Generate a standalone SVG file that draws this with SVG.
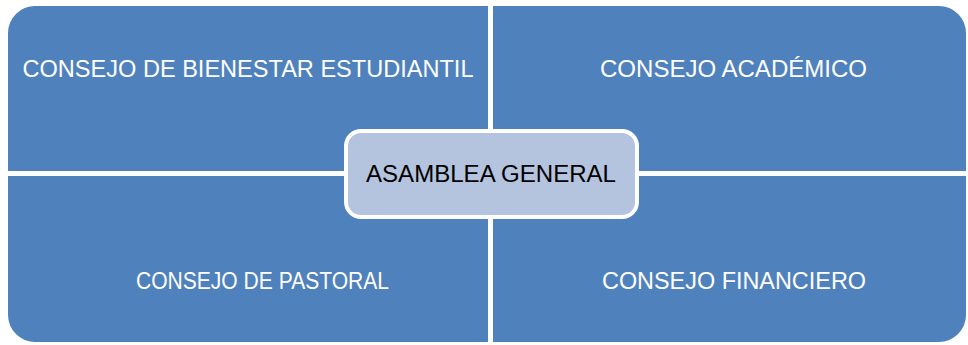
<svg xmlns="http://www.w3.org/2000/svg" width="968" height="345" viewBox="0 0 968 345">
<style>
.q{fill:#4F81BD;}
.qt{font-family:"Liberation Sans",Arial,sans-serif;font-size:23px;fill:#FFFFFF;text-anchor:middle;}
.ct{font-family:"Liberation Sans",Arial,sans-serif;font-size:23.5px;fill:#000000;text-anchor:middle;}
</style>
<rect width="968" height="345" fill="#FFFFFF"/>
<g id="n-bienestar">
<path class="q" d="M8,33 A27,27 0 0 1 35,6 L488,6 L488,171 L8,171 Z"/>
<text class="qt" x="248" y="77" textLength="451" lengthAdjust="spacingAndGlyphs">CONSEJO DE BIENESTAR ESTUDIANTIL</text>
</g>
<g id="n-academico">
<path class="q" d="M493,6 L939,6 A27,27 0 0 1 966,33 L966,171 L493,171 Z"/>
<text class="qt" x="733.5" y="77" textLength="267" lengthAdjust="spacingAndGlyphs">CONSEJO ACADÉMICO</text>
</g>
<g id="n-pastoral">
<path class="q" d="M8,176 L488,176 L488,342 L35,342 A27,27 0 0 1 8,315 Z"/>
<text class="qt" x="262.5" y="289" textLength="253" lengthAdjust="spacingAndGlyphs">CONSEJO DE PASTORAL</text>
</g>
<g id="n-financiero">
<path class="q" d="M493,176 L966,176 L966,315 A27,27 0 0 1 939,342 L493,342 Z"/>
<text class="qt" x="734" y="289" textLength="264" lengthAdjust="spacingAndGlyphs">CONSEJO FINANCIERO</text>
</g>
<g id="connectors"></g>
<g id="n-asamblea">
<rect x="346" y="131" width="291" height="86" rx="15" ry="15" fill="#B4C3DE" stroke="#FFFFFF" stroke-width="4"/>
<text class="ct" x="491" y="182" textLength="250" lengthAdjust="spacingAndGlyphs">ASAMBLEA GENERAL</text>
</g>
</svg>
